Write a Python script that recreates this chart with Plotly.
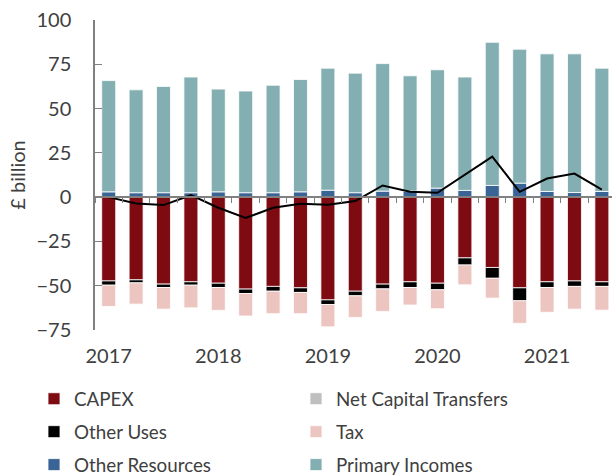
import plotly.graph_objects as go

quarters = [f"{y} Q{q}" for y in range(2017, 2022) for q in range(1, 5)][:19]
year_ticks = ["2017 Q1", "2018 Q1", "2019 Q1", "2020 Q1", "2021 Q1"]
year_labels = ["2017", "2018", "2019", "2020", "2021"]

capex = [-47.3, -46.7, -49.1, -47.8, -48.6, -51.9, -50.4, -51.2, -58.0, -53.1,
         -49.1, -47.8, -48.6, -34.3, -39.7, -51.2, -47.8, -47.3, -47.8]
other_uses = [-2.4, -1.7, -1.9, -1.9, -2.4, -2.5, -2.7, -2.6, -2.6, -2.6,
              -2.7, -3.2, -3.7, -4.0, -6.1, -7.3, -3.2, -3.1, -2.6]
net_capital_transfers = [0.0, 0.0, 0.0, 0.0, 0.0, 0.0, 0.0, 0.0, 0.0, 0.0,
                         0.0, 0.0, 0.0, 0.0, 0.0, 0.0, 0.0, 0.0, 0.0]
tax = [-12.0, -12.0, -12.2, -12.8, -12.9, -12.7, -12.7, -12.0, -12.6, -12.2,
       -12.7, -9.9, -10.7, -11.2, -11.2, -12.7, -14.0, -12.8, -13.4]
other_resources = [3.0, 2.5, 2.5, 2.5, 3.0, 2.5, 2.5, 3.0, 3.9, 2.5,
                   3.4, 3.4, 5.1, 3.8, 6.6, 7.9, 3.2, 2.6, 3.2]
primary_incomes = [62.8, 58.1, 60.0, 65.3, 58.0, 57.4, 60.7, 63.4, 68.9, 67.5,
                   72.0, 65.1, 66.8, 64.0, 80.8, 75.6, 77.7, 78.3, 69.6]
net_lending = [0.0, -3.6, -4.5, 1.1, -6.0, -11.8, -6.0, -3.7, -4.3, -2.2,
               6.6, 3.0, 2.5, 12.8, 22.9, 3.0, 10.5, 13.3, 4.3]

series = [
    ("CAPEX", capex, "#7d0b11", "legend"),
    ("Other Uses", other_uses, "#000000", "legend"),
    ("Net Capital Transfers", net_capital_transfers, "#bfbfbf", "legend2"),
    ("Tax", tax, "#edc5c0", "legend2"),
    ("Other Resources", other_resources, "#3a6396", "legend"),
    ("Primary Incomes", primary_incomes, "#84afb2", "legend2"),
]

FONT = "Lato"
TXT = "#404040"
AX = "#808080"
W, H = 612, 475
ML, MR, MT, MB = 95, 0, 20, 145
PW, PH = W - ML - MR, H - MT - MB

fig = go.Figure()
for name, vals, col, leg in series:
    fig.add_trace(go.Bar(
        x=quarters, y=vals, name=name, legendgroup=name, legend=leg,
        marker=dict(color=col, line=dict(color="white", width=0.8)),
    ))

fig.add_trace(go.Scatter(
    x=quarters, y=net_lending, mode="lines", xaxis="x2",
    line=dict(color="black", width=2), showlegend=False, name="Net lending",
))

yr = [-75, 100]
xr = [-0.5, 18.37]

fig.update_layout(
    width=W, height=H,
    margin=dict(l=ML, r=MR, t=MT, b=MB, autoexpand=False),
    paper_bgcolor="white", plot_bgcolor="white",
    barmode="relative", bargap=0.49,
    font=dict(family=FONT, color=TXT, size=20),
    xaxis=dict(
        type="category", categoryorder="array", categoryarray=quarters,
        range=xr, tickmode="array", tickvals=year_ticks, ticktext=year_labels,
        showline=False, ticks="", showgrid=False, zeroline=False,
        tickfont=dict(size=20, color=TXT), ticklabelstandoff=12,
    ),
    xaxis2=dict(
        type="category", categoryorder="array", categoryarray=quarters,
        overlaying="x", anchor="free", position=(0 - yr[0]) / (yr[1] - yr[0]),
        range=xr, showline=True, linecolor=AX, linewidth=1.5,
        ticks="outside", tickson="boundaries", ticklen=5, tickcolor=AX, tickwidth=1,
        showticklabels=False, showgrid=False, zeroline=False, layer="above traces",
    ),
    yaxis=dict(
        range=yr, dtick=25, tick0=0, showgrid=False, zeroline=False,
        showline=True, linecolor=AX, linewidth=1.5,
        ticks="inside", ticklen=7, tickcolor=AX, tickwidth=1,
        tickfont=dict(size=20, color=TXT), ticklabelstandoff=18,
        title=dict(text="£ billion", font=dict(size=20, color=TXT), standoff=5),
    ),
    legend=dict(
        x=(34 - ML) / PW, xanchor="left", y=(MT + PH - 380) / PH, yanchor="top",
        orientation="v", tracegroupgap=5.5, font=dict(size=18.8, color=TXT),
        bgcolor="rgba(0,0,0,0)",
    ),
    legend2=dict(
        x=(296 - ML) / PW, xanchor="left", y=(MT + PH - 380) / PH, yanchor="top",
        orientation="v", tracegroupgap=5.5, font=dict(size=18.8, color=TXT),
        bgcolor="rgba(0,0,0,0)",
    ),
)

fig.write_html(
    "out.html",
    config={"displayModeBar": False},
    post_script="document.body.style.margin='0';document.body.style.overflow='hidden';",
)
